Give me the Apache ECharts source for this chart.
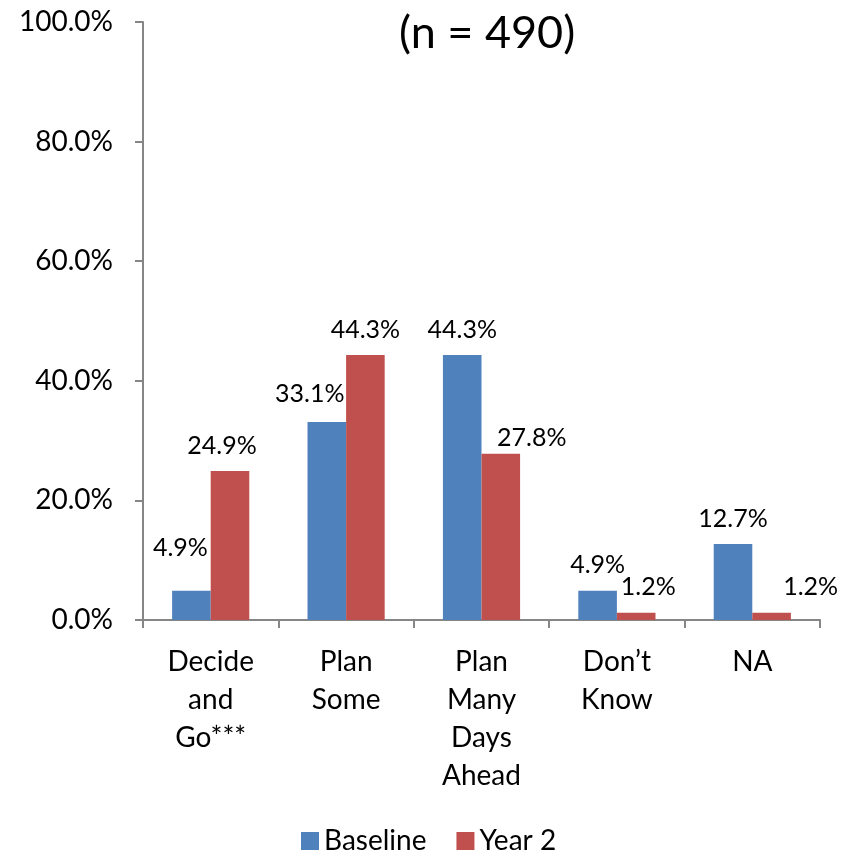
<!DOCTYPE html>
<html>
<head>
<meta charset="utf-8">
<script src="https://cdn.jsdelivr.net/npm/echarts@6/dist/echarts.min.js"></script>
<style>html,body{margin:0;padding:0;background:#fff;}#chart{width:850px;height:854px;}</style>
</head>
<body>
<div id="chart"></div>
<script>
var categories = ['Decide\nand\nGo***', 'Plan\nSome', 'Plan\nMany\nDays\nAhead', 'Don\u2019t\nKnow', 'NA'];
var baseline = [4.9, 33.1, 44.3, 4.9, 12.7];
var year2 = [24.9, 44.3, 27.8, 1.2, 1.2];
var yTicks = [0, 20, 40, 60, 80, 100];
var titleText = '(n = 490)';

// label placement tweaks (style only)
var baseOffsets = [[-11, -17], [-17, -3], [0, 0], [0, 0], [0, 0]];
var y2Offsets = [[-8, 0], [0, 0], [31, 10], [12, 0], [39, 0]];

var FONT = 'Lato';
function mk(vals, offs) {
  return vals.map(function (v, i) {
    return { value: v, label: { offset: offs[i] } };
  });
}
var chart = echarts.init(document.getElementById('chart'));
var labelCfg = {
  show: true, position: 'top', distance: 13,
  formatter: function (p) { return p.value.toFixed(1) + '%'; },
  fontFamily: FONT, fontSize: 25, color: '#000'
};
chart.setOption({
  animation: false,
  backgroundColor: '#fff',
  title: {
    text: titleText, left: 394, top: 6,
    textStyle: { fontFamily: FONT, fontSize: 45, fontWeight: 'normal', color: '#000' }
  },
  legend: {
    data: ['Baseline', 'Year 2'], left: 296, top: 822, itemWidth: 18, itemHeight: 18,
    itemGap: 30, icon: 'rect',
    textStyle: { fontFamily: FONT, fontSize: 28, color: '#000' }
  },
  grid: { left: 143, right: 30, top: 22, bottom: 234 },
  xAxis: {
    type: 'category', data: categories,
    axisLine: { lineStyle: { color: '#868686', width: 2 } },
    axisTick: { show: true, length: 8, lineStyle: { color: '#868686', width: 2 } },
    axisLabel: { fontFamily: FONT, fontSize: 28, lineHeight: 38, color: '#000', margin: 23, interval: 0 }
  },
  yAxis: {
    type: 'value', min: yTicks[0], max: yTicks[yTicks.length - 1], interval: yTicks[1] - yTicks[0],
    axisLine: { show: true, lineStyle: { color: '#868686', width: 2 } },
    axisTick: { show: true, length: 8, lineStyle: { color: '#868686', width: 2 } },
    splitLine: { show: false },
    axisLabel: { fontFamily: FONT, fontSize: 28, color: '#000', margin: 30,
      formatter: function (v) { return v.toFixed(1) + '%'; } }
  },
  series: [
    { name: 'Baseline', type: 'bar', data: mk(baseline, baseOffsets), barGap: '0%', barCategoryGap: '43%',
      itemStyle: { color: '#4F81BD' }, label: labelCfg },
    { name: 'Year 2', type: 'bar', data: mk(year2, y2Offsets), barGap: '0%', barCategoryGap: '43%',
      itemStyle: { color: '#C0504D' }, label: labelCfg }
  ]
});
</script>
</body>
</html>
